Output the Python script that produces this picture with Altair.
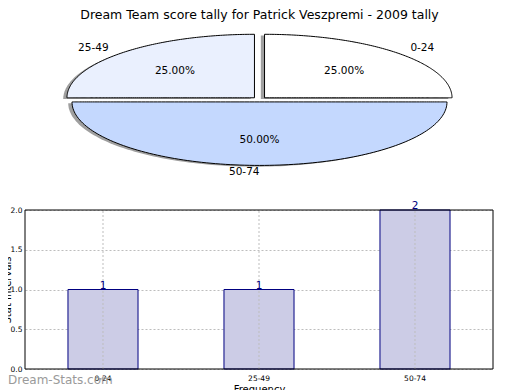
import altair as alt
import pandas as pd

# ---- data ----
categories = ["0-24", "25-49", "50-74"]
counts = [1, 1, 2]
slice_colors = ["#ffffff", "#eaf0fe", "#c4d8fe"]
title_text = "Dream Team score tally for Patrick Veszpremi - 2009 tally"
y_ticks = [0.0, 0.5, 1.0, 1.5, 2.0]
watermark = "Dream-Stats.com"

df = pd.DataFrame({"i": list(range(len(categories))), "cat": categories, "count": counts})

EXPLODE = 0.038
PW, PH = 468, 361          # plot group size
BAR_TOP = 202
GRID = "#bdbdbd"

xs = alt.Scale(domain=[-1, 1], range=[47, 422], nice=False, zero=False)
ys = alt.Scale(domain=[-1, 1], range=[155, 28], nice=False, zero=False)
fill_scale = alt.Scale(domain=categories, range=slice_colors)

base = (
    alt.Chart(df)
    .transform_joinaggregate(total="sum(count)")
    .transform_window(cum="sum(count)", frame=[None, 0], sort=[alt.SortField("i")])
    .transform_calculate(a0="2*PI*(datum.cum-datum.count)/datum.total")
    .transform_calculate(a1="2*PI*datum.cum/datum.total")
    .transform_calculate(mid="(datum.a0+datum.a1)/2")
    .transform_calculate(ex=f"{EXPLODE}*cos(datum.mid)")
    .transform_calculate(ey=f"{EXPLODE}*sin(datum.mid)")
    .transform_calculate(pct="format(100*datum.count/datum.total, '.2f') + '%'")
)

geom = (
    base.transform_calculate(pts="sequence(0, 121)")
    .transform_flatten(["pts"], as_=["k"])
    .transform_calculate(ang="datum.a0 + (datum.a1-datum.a0)*datum.k/120")
    .transform_calculate(px="datum.ex + cos(datum.ang)")
    .transform_calculate(py="datum.ey + sin(datum.ang)")
    .transform_calculate(sx="datum.px - 0.02")
    .transform_calculate(sy="datum.py - 0.02")
    .transform_calculate(sey="datum.ey - 0.02")
)

shadow = geom.mark_area(fill="#9f9f9f", opacity=1).encode(
    x=alt.X("sx:Q", scale=xs, axis=None),
    y=alt.Y("sy:Q", scale=ys, axis=None),
    y2="sey:Q",
    detail="cat:N",
)

slices = geom.mark_area(stroke="black", strokeWidth=1).encode(
    x=alt.X("px:Q", scale=xs, axis=None),
    y=alt.Y("py:Q", scale=ys, axis=None),
    y2="ey:Q",
    fill=alt.Fill("cat:N", scale=fill_scale, legend=None),
)

lab = base.transform_calculate(lx="datum.ex + 1.1*cos(datum.mid)").transform_calculate(
    ly="datum.ey + 1.1*sin(datum.mid)"
)
lab_right = lab.transform_filter("cos(datum.mid) > 0").mark_text(
    align="left", baseline="middle", fontSize=10.5, font="DejaVu Sans", color="black"
).encode(x=alt.X("lx:Q", scale=xs, axis=None), y=alt.Y("ly:Q", scale=ys, axis=None), text="cat:N")
lab_left = lab.transform_filter("cos(datum.mid) <= 0").mark_text(
    align="right", baseline="middle", fontSize=10.5, font="DejaVu Sans", color="black"
).encode(x=alt.X("lx:Q", scale=xs, axis=None), y=alt.Y("ly:Q", scale=ys, axis=None), text="cat:N")

pct = (
    base.transform_calculate(tx="datum.ex + 0.6*cos(datum.mid)")
    .transform_calculate(ty="datum.ey + 0.6*sin(datum.mid)")
    .mark_text(align="center", baseline="middle", fontSize=10.5, font="DejaVu Sans", color="black")
    .encode(x=alt.X("tx:Q", scale=xs, axis=None), y=alt.Y("ty:Q", scale=ys, axis=None), text="pct:N")
)

pie = alt.layer(shadow, slices, lab_right, lab_left, pct)

# ---- bar chart ----
bx = alt.X(
    "cat:N",
    sort=categories,
    scale=alt.Scale(paddingInner=0.551, paddingOuter=0.2755),
    axis=alt.Axis(
        orient="bottom", title="Frequency", labelAngle=0, labelFontSize=7.5, labelFont="DejaVu Sans",
        labelColor="black", labelPadding=5, tickSize=0, domain=False, grid=False,
        titleFont="DejaVu Sans", titleFontSize=10, titleFontWeight="normal", titleColor="black",
        titleBaseline="top", titleY=15,
    ),
)
by = alt.Y(
    "count:Q",
    scale=alt.Scale(domain=[0, 2], range=[PH, BAR_TOP], nice=False),
    axis=alt.Axis(
        orient="left", title="Stat Intervals", values=y_ticks, format=".1f", labelFontSize=7.5,
        labelFont="DejaVu Sans", labelColor="black", labelPadding=3, tickSize=0, domain=False,
        grid=True, gridColor=GRID, gridDash=[2, 2], gridWidth=1,
        titleFont="DejaVu Sans", titleFontSize=10, titleFontWeight="normal", titleColor="black",
        titleX=-13, titleY=(PH + BAR_TOP) / 2,
    ),
)

bars = alt.Chart(df).mark_bar(fill="#ccccE6", stroke="#000080", strokeWidth=1).encode(x=bx, y=by)

vgrid = alt.Chart(df).mark_rule(color=GRID, strokeDash=[2, 2], strokeWidth=1).encode(
    x=alt.X("cat:N", sort=categories, bandPosition=0.5),
    y=alt.datum(y_ticks[0]),
    y2=alt.datum(y_ticks[-1]),
)

bar_text = alt.Chart(df).mark_text(
    color="#000080", baseline="bottom", fontSize=10.5, font="DejaVu Sans", dy=1
).encode(x=alt.X("cat:N", sort=categories), y="count:Q", text="count:Q")

frame = alt.Chart(pd.DataFrame({"f": [0]})).mark_rect(
    fill="transparent", stroke="black", strokeWidth=1
).encode(x=alt.value(0), x2=alt.value(PW), y=alt.value(BAR_TOP), y2=alt.value(PH))

bar_layer = alt.layer(bars, vgrid, bar_text, frame)

# ---- title and watermark ----
title = alt.Chart(pd.DataFrame({"t": [title_text]})).mark_text(
    fontSize=12.5, font="DejaVu Sans", color="black", align="center", baseline="alphabetic"
).encode(text="t:N", x=alt.value(234.5), y=alt.value(11))

wm = alt.Chart(pd.DataFrame({"t": [watermark]})).mark_text(
    fontSize=12, font="DejaVu Sans", color="#9a9a9a", align="left", baseline="alphabetic"
).encode(text="t:N", x=alt.value(-17), y=alt.value(376))

chart = (
    alt.layer(pie, bar_layer, title, wm)
    .resolve_scale(x="independent", y="independent")
    .properties(
        width=PW,
        height=PH,
        autosize=alt.AutoSizeParams(type="none"),
        padding={"left": 17, "top": 0, "right": 19, "bottom": 21},
    )
    .configure_view(stroke=None)
)

chart.save("out.html", embed_options={"renderer": "svg", "actions": False})
